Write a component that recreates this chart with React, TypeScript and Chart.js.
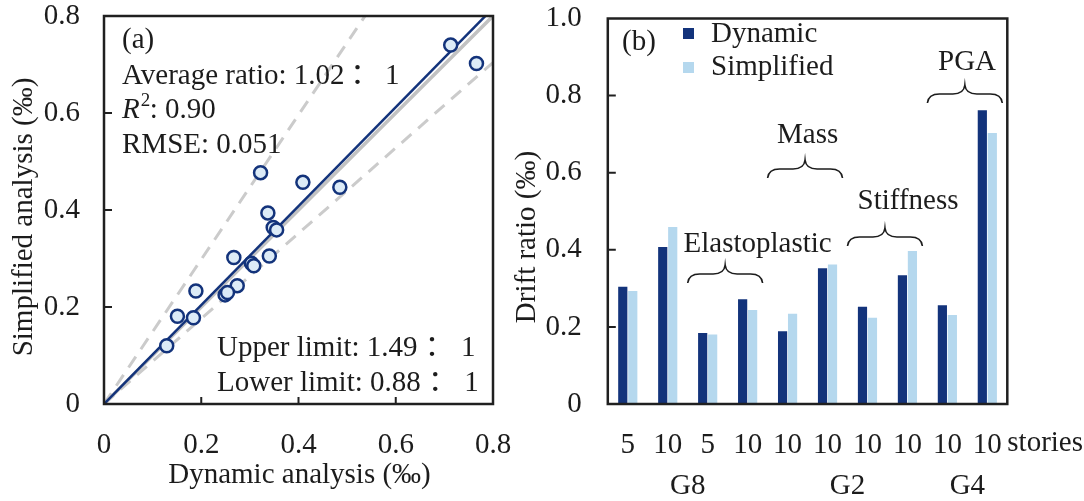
import React, { useEffect, useRef } from 'react';
import { Chart, registerables } from 'chart.js';

Chart.register(...registerables);

const FONT = '"Liberation Serif", "Times New Roman", "Noto Sans CJK SC", serif';
const FS = 29;
const TEXT = '#1c1c1c';
const NAVY = '#13337b';
const LIGHT = '#b5d8ee';
const POINT_FILL = '#dcebf7';
const GREY = '#cbcbcb';

// ---- panel (a) data ----
const dynamicAnalysis = [0.713, 0.766, 0.322, 0.409, 0.485, 0.337, 0.348, 0.355, 0.267, 0.340, 0.303, 0.308, 0.274, 0.189, 0.249, 0.254, 0.151, 0.184, 0.129];
const simplifiedAnalysis = [0.740, 0.702, 0.477, 0.457, 0.447, 0.394, 0.364, 0.359, 0.302, 0.305, 0.290, 0.285, 0.244, 0.233, 0.225, 0.230, 0.181, 0.178, 0.120];
const fitRatio = 1.02;
const upperRatio = 1.49;
const lowerRatio = 0.88;
const rSquared = '0.90';
const rmse = '0.051';
const scatterTicks = [0, 0.2, 0.4, 0.6, 0.8];

// ---- panel (b) data ----
const storyLabels = ['5', '10', '5', '10', '10', '10', '10', '10', '10', '10'];
const dynamicDrift = [0.304, 0.407, 0.184, 0.272, 0.189, 0.352, 0.252, 0.334, 0.256, 0.762];
const simplifiedDrift = [0.293, 0.459, 0.180, 0.244, 0.234, 0.362, 0.224, 0.397, 0.231, 0.703];
const driftTicks = [0, 0.2, 0.4, 0.6, 0.8, 1.0];
const groupNames = ['G8', 'G2', 'G4'];
const groupRanges = [[0, 3], [4, 7], [8, 9]];
const paramNames = ['Elastoplastic', 'Mass', 'Stiffness', 'PGA'];
const paramRanges = [[2, 3], [4, 5], [6, 7], [8, 9]];

const fmt = (v: number) => (v === 0 ? '0' : v.toFixed(1));

function font(size: number, style = '') {
  return `${style} ${size}px ${FONT}`.trim();
}

function drawText(ctx: CanvasRenderingContext2D, s: string, x: number, y: number, size = FS, align: CanvasTextAlign = 'left', style = '') {
  ctx.save();
  ctx.font = font(size, style);
  ctx.fillStyle = TEXT;
  ctx.textAlign = align;
  ctx.textBaseline = 'alphabetic';
  ctx.fillText(s, x, y);
  ctx.restore();
}

function drawBrace(ctx: CanvasRenderingContext2D, x1: number, x2: number, tip: number) {
  const band = tip + 9;
  const end = tip + 18;
  const xm = (x1 + x2) / 2;
  const r = 12;
  ctx.save();
  ctx.strokeStyle = TEXT;
  ctx.lineWidth = 1.6;
  ctx.beginPath();
  ctx.moveTo(x1, end);
  ctx.quadraticCurveTo(x1 + 1, band, x1 + r, band);
  ctx.lineTo(xm - r, band);
  ctx.quadraticCurveTo(xm - 1, band, xm, tip);
  ctx.quadraticCurveTo(xm + 1, band, xm + r, band);
  ctx.lineTo(x2 - r, band);
  ctx.quadraticCurveTo(x2 - 1, band, x2, end);
  ctx.stroke();
  ctx.restore();
}

const noPadX = (h: number) => (s: any) => { s.height = h; s.paddingLeft = 0; s.paddingRight = 0; };
const noPadY = (w: number) => (s: any) => { s.width = w; s.paddingTop = 0; s.paddingBottom = 0; };

const scatterDecor = {
  id: 'scatterDecor',
  afterDraw(chart: any) {
    const { ctx, chartArea: a, scales } = chart;
    const xs = scales.x, ys = scales.y;
    ctx.save();
    ctx.strokeStyle = '#202020';
    ctx.lineWidth = 2.5;
    ctx.strokeRect(a.left, a.top, a.right - a.left, a.bottom - a.top);
    ctx.lineWidth = 2;
    ctx.beginPath();
    scatterTicks.slice(1, -1).forEach((v) => {
      const py = ys.getPixelForValue(v);
      ctx.moveTo(a.left, py); ctx.lineTo(a.left + 8, py);
      const px = xs.getPixelForValue(v);
      ctx.moveTo(px, a.bottom); ctx.lineTo(px, a.bottom - 7);
    });
    ctx.stroke();
    ctx.restore();

    drawText(ctx, '(a)', 122, 48);
    drawText(ctx, `Average ratio: ${fitRatio.toFixed(2)}\u2009\uFF1A\u20091`, 122, 84);
    ctx.save();
    ctx.font = font(FS, 'italic');
    const wR = ctx.measureText('R').width;
    ctx.restore();
    drawText(ctx, 'R', 122, 118, FS, 'left', 'italic');
    drawText(ctx, '2', 122 + wR + 1, 106, 19);
    drawText(ctx, `: ${rSquared}`, 122 + wR + 10, 118);
    drawText(ctx, `RMSE: ${rmse}`, 122, 153);
    drawText(ctx, `Upper limit: ${upperRatio.toFixed(2)} \uFF1A 1`, 217, 356);
    drawText(ctx, `Lower limit: ${lowerRatio.toFixed(2)} \uFF1A 1`, 217, 391);

    drawText(ctx, 'Dynamic analysis (\u2030)', (a.left + a.right) / 2 + 1, 483, FS, 'center');
    ctx.save();
    ctx.translate(32, (a.top + a.bottom) / 2 + 7);
    ctx.rotate(-Math.PI / 2);
    drawText(ctx, 'Simplified analysis (\u2030)', 0, 0, FS, 'center');
    ctx.restore();
  },
};

const barDecor = {
  id: 'barDecor',
  afterDraw(chart: any) {
    const { ctx, chartArea: a, scales } = chart;
    const xs = scales.x, ys = scales.y;
    ctx.save();
    ctx.strokeStyle = '#202020';
    ctx.lineWidth = 2.5;
    ctx.strokeRect(a.left, a.top, a.right - a.left, a.bottom - a.top);
    ctx.lineWidth = 2;
    ctx.beginPath();
    driftTicks.slice(1, -1).forEach((v) => {
      const py = ys.getPixelForValue(v);
      ctx.moveTo(a.left, py); ctx.lineTo(a.left + 8, py);
    });
    ctx.stroke();
    ctx.restore();

    drawText(ctx, '(b)', 122, 50);
    ctx.save();
    ctx.fillStyle = NAVY;
    ctx.fillRect(183, 28, 11, 11);
    ctx.fillStyle = LIGHT;
    ctx.fillRect(183, 62, 11, 11);
    ctx.restore();
    drawText(ctx, 'Dynamic', 211, 42);
    drawText(ctx, 'Simplified', 211, 75);

    const half = (xs.getPixelForValue(1) - xs.getPixelForValue(0)) / 2;
    const tips = [265, 160, 228, 85];
    const labelPos = [[183.5, 252], [277, 143], [357.5, 209], [438, 70]];
    paramRanges.forEach(([s, e], i) => {
      drawBrace(ctx, xs.getPixelForValue(s) - half, xs.getPixelForValue(e) + half - 5, tips[i]);
      drawText(ctx, paramNames[i], labelPos[i][0], labelPos[i][1]);
    });

    groupRanges.forEach(([s, e], i) => {
      drawText(ctx, groupNames[i], xs.getPixelForValue((s + e) / 2), 494, FS, 'center');
    });
    drawText(ctx, 'stories', a.right, 451);

    ctx.save();
    ctx.translate(35, 237);
    ctx.rotate(-Math.PI / 2);
    drawText(ctx, 'Drift ratio (\u2030)', 0, 0, FS, 'center');
    ctx.restore();
  },
};

function ScatterPanel() {
  const ref = useRef<HTMLCanvasElement>(null);
  useEffect(() => {
    const points = dynamicAnalysis.map((x, i) => ({ x, y: simplifiedAnalysis[i] }));
    const line = (k: number) => [{ x: 0, y: 0 }, { x: 0.8, y: 0.8 * k }];
    const chart = new Chart(ref.current!, {
      type: 'scatter',
      data: {
        datasets: [
          { data: points, pointRadius: 6.5, pointBackgroundColor: POINT_FILL, pointBorderColor: NAVY, pointBorderWidth: 2.5, order: 0 },
          { data: line(fitRatio), showLine: true, borderColor: NAVY, borderWidth: 2.5, pointRadius: 0, order: 1 },
          { data: line(1), showLine: true, borderColor: '#c2c2c2', borderWidth: 3.5, pointRadius: 0, order: 2 },
          { data: line(upperRatio), showLine: true, borderColor: GREY, borderWidth: 3, borderDash: [13, 9], pointRadius: 0, order: 3 },
          { data: line(lowerRatio), showLine: true, borderColor: GREY, borderWidth: 3, borderDash: [13, 9], pointRadius: 0, order: 4 },
        ],
      } as any,
      options: {
        animation: false,
        responsive: false,
        devicePixelRatio: 1,
        layout: { padding: { top: 16, right: 47, left: 0, bottom: 0 } },
        plugins: { legend: { display: false }, tooltip: { enabled: false } },
        scales: {
          x: {
            type: 'linear', min: 0, max: 0.8,
            afterBuildTicks: (s: any) => { s.ticks = scatterTicks.map((v) => ({ value: v })); },
            afterFit: noPadX(97),
            grid: { display: false, drawTicks: false },
            border: { display: false },
            ticks: { padding: 24, color: TEXT, font: { family: FONT, size: FS }, callback: (v: any) => fmt(Number(v)), maxRotation: 0 },
          },
          y: {
            type: 'linear', min: 0, max: 0.8,
            afterBuildTicks: (s: any) => { s.ticks = scatterTicks.map((v) => ({ value: v })); },
            afterFit: noPadY(104),
            grid: { display: false, drawTicks: false },
            border: { display: false },
            ticks: { padding: 24, color: TEXT, font: { family: FONT, size: FS }, callback: (v: any) => fmt(Number(v)) },
          },
        },
      } as any,
      plugins: [scatterDecor],
    });
    return () => chart.destroy();
  }, []);
  return <canvas ref={ref} width={540} height={501} style={{ position: 'absolute', left: 0, top: 0, width: 540, height: 501 }} />;
}

function BarPanel() {
  const ref = useRef<HTMLCanvasElement>(null);
  useEffect(() => {
    const chart = new Chart(ref.current!, {
      type: 'bar',
      data: {
        labels: storyLabels,
        datasets: [
          { label: 'Dynamic', data: dynamicDrift, backgroundColor: NAVY, categoryPercentage: 0.5, barPercentage: 0.92 },
          { label: 'Simplified', data: simplifiedDrift, backgroundColor: LIGHT, categoryPercentage: 0.5, barPercentage: 0.92 },
        ],
      },
      options: {
        animation: false,
        responsive: false,
        devicePixelRatio: 1,
        layout: { padding: { top: 18.5, right: 76.7, left: 0, bottom: 0 } },
        plugins: { legend: { display: false }, tooltip: { enabled: false } },
        scales: {
          x: {
            type: 'category',
            afterFit: noPadX(97),
            grid: { display: false, drawTicks: false },
            border: { display: false },
            ticks: { padding: 24, color: TEXT, font: { family: FONT, size: FS }, maxRotation: 0, autoSkip: false },
          },
          y: {
            type: 'linear', min: 0, max: 1.0,
            afterBuildTicks: (s: any) => { s.ticks = driftTicks.map((v) => ({ value: v })); },
            afterFit: noPadY(107.8),
            grid: { display: false, drawTicks: false },
            border: { display: false },
            ticks: { padding: 26, color: TEXT, font: { family: FONT, size: FS }, callback: (v: any) => fmt(Number(v)) },
          },
        },
      } as any,
      plugins: [barDecor],
    });
    return () => chart.destroy();
  }, []);
  return <canvas ref={ref} width={584} height={501} style={{ position: 'absolute', left: 500, top: 0, width: 584, height: 501 }} />;
}

export default function App() {
  return (
    <div style={{ position: 'absolute', left: 0, top: 0, width: 1084, height: 501, background: '#fff', overflow: 'hidden' }}>
      <ScatterPanel />
      <BarPanel />
    </div>
  );
}
